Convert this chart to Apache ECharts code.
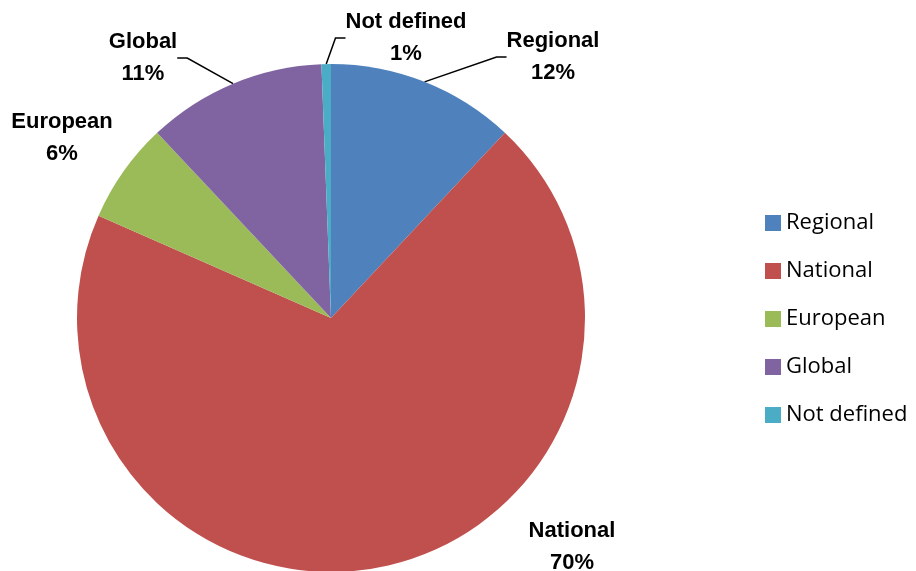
<!DOCTYPE html>
<html>
<head>
<meta charset="utf-8">
<script src="https://cdn.jsdelivr.net/npm/echarts@6/dist/echarts.min.js"></script>
<style>
html,body{margin:0;padding:0;background:#fff;}
#chart{width:916px;height:571px;}
</style>
</head>
<body>
<div id="chart"></div>
<script>
// Data
var categories = ['Regional', 'National', 'European', 'Global', 'Not defined'];
var values = [12.0, 69.6, 6.4, 11.4, 0.6];
var colors = ['#4F81BD', '#C0504D', '#9BBB59', '#8064A2', '#4BACC6'];
var showLeader = [true, false, false, true, true];
// label placement (layout only)
var labelPos = [[553, 57], [572, 547], [62, 138], [143, 58], [406, 38]];

var total = values.reduce(function (a, b) { return a + b; }, 0);

var chart = echarts.init(document.getElementById('chart'), null, { renderer: 'canvas' });
var option = {
  animation: false,
  backgroundColor: '#ffffff',
  legend: {
    orient: 'vertical',
    left: 760,
    top: 207,
    itemWidth: 16,
    itemHeight: 16,
    itemGap: 26,
    icon: 'rect',
    data: categories,
    textStyle: {
      fontFamily: 'Open Sans',
      fontSize: 22,
      color: '#000',
      lineHeight: 22
    }
  },
  series: [{
    type: 'pie',
    center: [331, 318],
    radius: 254,
    startAngle: 90,
    clockwise: true,
    avoidLabelOverlap: false,
    itemStyle: { borderWidth: 0 },
    label: {
      show: true,
      position: 'outside',
      fontFamily: 'Liberation Sans',
      fontWeight: 'bold',
      fontSize: 22,
      lineHeight: 32,
      color: '#000',
      align: 'center',
      formatter: function (p) {
        return p.name + '\n' + Math.round(p.value / total * 100) + '%';
      }
    },
    labelLine: {
      show: true,
      length: 20,
      length2: 10,
      lineStyle: { color: '#000', width: 1.5 }
    },
    labelLayout: function (params) {
      var pos = labelPos[params.dataIndex];
      return { x: pos[0], y: pos[1], align: 'center', verticalAlign: 'middle' };
    },
    emphasis: { disabled: true },
    data: categories.map(function (c, i) {
      return {
        name: c,
        value: values[i],
        itemStyle: { color: colors[i] },
        labelLine: { show: showLeader[i] }
      };
    })
  }]
};
chart.setOption(option);
</script>
</body>
</html>
